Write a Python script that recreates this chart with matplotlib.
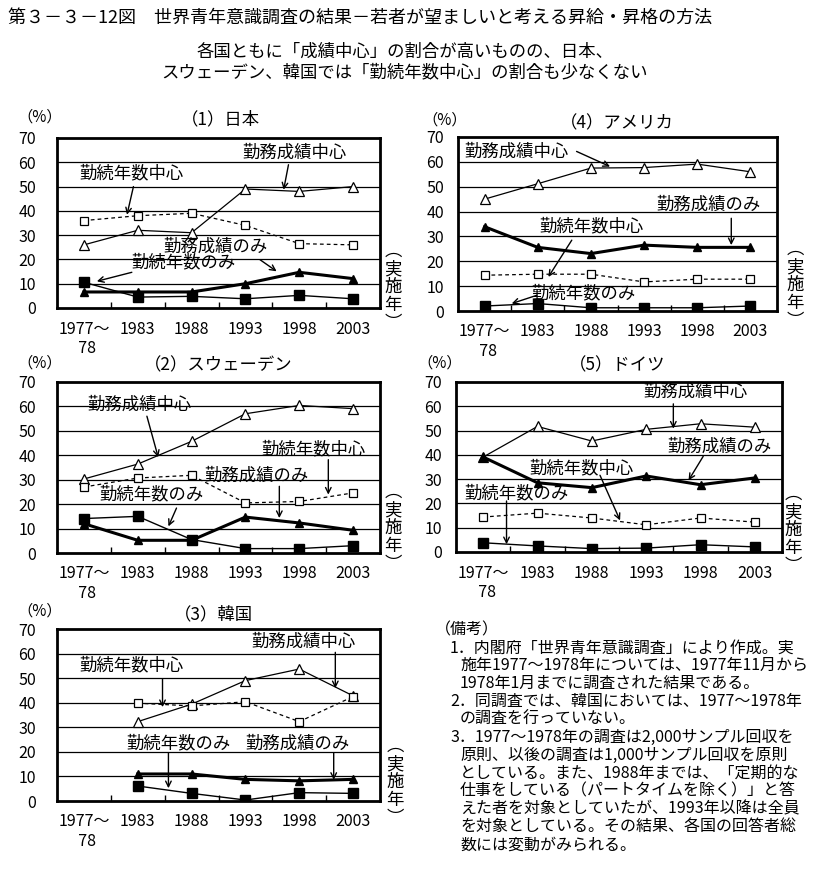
import numpy as np
import matplotlib
matplotlib.use('Agg')
import matplotlib.pyplot as plt

plt.rcParams['font.family'] = ['Noto Sans CJK JP', 'DejaVu Sans']

# ---------------- データ（%） ----------------
years = ['1977～\n  78', '1983', '1988', '1993', '1998', '2003']
nan = np.nan

jp_perf_center = [26, 32, 31, 49, 48, 50]
jp_years_center = [36, 38, 39, 34, 26.5, 26]
jp_perf_only = [6.6, 6.6, 6.6, 10, 14.7, 12.1]
jp_years_only = [10.6, 4.5, 4.8, 3.8, 5.2, 3.8]

us_perf_center = [45, 51.2, 57.5, 57.7, 59.1, 56]
us_years_center = [14.4, 14.8, 14.8, 11.7, 12.8, 12.8]
us_perf_only = [33.9, 25.6, 23.1, 26.5, 25.6, 25.6]
us_years_only = [2.0, 3.0, 1.3, 1.3, 1.3, 2.0]

se_perf_center = [30.3, 36.4, 45.7, 57, 60.4, 59.1]
se_years_center = [27, 30.7, 31.8, 20.5, 21.1, 24.6]
se_perf_only = [12, 5.2, 5.2, 14.7, 12.3, 9.3]
se_years_only = [14.1, 15, 5.5, 1.8, 1.8, 3.0]

de_perf_center = [39.1, 51.7, 45.7, 50.5, 52.8, 51.4]
de_years_center = [14.4, 16, 14, 11.2, 14, 12.3]
de_perf_only = [39.1, 28.5, 26.5, 31.3, 27.7, 30.5]
de_years_only = [3.8, 2.5, 1.4, 1.6, 3.0, 2.1]

kr_perf_center = [nan, 32.3, 39.4, 49, 53.7, 42.8]
kr_years_center = [nan, 39.8, 38.7, 40.4, 32.3, 42.5]
kr_perf_only = [nan, 11, 11, 8.8, 8.2, 8.8]
kr_years_only = [nan, 6.1, 3.1, 0.4, 3.4, 3.1]

W, H = 838, 889
fig = plt.figure(figsize=(W / 100, H / 100), dpi=100)


def fx(x):
    return x / W


def fy(y):
    return 1 - y / H


def draw_panel(box, title, title_xy, pct_xy, jissi_xy, ypad, data, notes):
    l, t, r, b = box
    ax = fig.add_axes([fx(l), fy(b), (r - l) / W, (b - t) / H])
    ax.set_xlim(-0.5, 5.5)
    ax.set_ylim(0, 70)
    for v in range(10, 70, 10):
        ax.axhline(v, color='black', lw=0.9, zorder=0)
    for s in ax.spines.values():
        s.set_linewidth(2)
    ax.set_yticks(range(0, 71, 10))
    ax.set_xticks(range(6))
    ax.set_xticklabels(years)
    ax.set_xticks(np.arange(0.5, 5, 1), minor=True)
    ax.tick_params(axis='x', which='major', length=0, pad=9, labelsize=11.5)
    ax.tick_params(axis='x', which='minor', direction='in', length=4, width=1)
    ax.tick_params(axis='y', length=0, pad=ypad, labelsize=11.5)

    x = np.arange(6)
    pc, yc, po, yo = data
    ax.plot(x, pc, color='black', lw=0.9, marker='^', ms=7, mfc='white', mec='black', mew=0.9, zorder=3)
    ax.plot(x, yc, color='black', lw=0.9, ls=(0, (3, 2.5)), marker='s', ms=6, mfc='white', mec='black', mew=0.9, zorder=3)
    ax.plot(x, po, color='black', lw=2.2, marker='^', ms=6, mfc='black', mec='black', zorder=3)
    ax.plot(x, yo, color='black', lw=1.0, marker='s', ms=6.5, mfc='black', mec='black', zorder=3)

    # 注記と矢印
    for txt, txy, start, end in notes:
        ax.text(txy[0], txy[1], txt, ha='center', va='center', fontsize=12.5)
        ax.annotate('', xy=end, xytext=start,
                    arrowprops=dict(arrowstyle='->', color='black', lw=1, shrinkA=0, shrinkB=0))

    fig.text(fx(title_xy[0]), fy(title_xy[1]), title, ha='center', va='center', fontsize=12.5)
    fig.text(fx(pct_xy[0]), fy(pct_xy[1]), '（%）', ha='center', va='center', fontsize=11)
    fig.text(fx(jissi_xy[0]), fy(jissi_xy[1]), '︵\n実\n施\n年\n︶', ha='center', va='center',
             fontsize=12.5, linespacing=1.0)
    return ax


# (1) 日本
draw_panel((57, 138, 380, 308), '（1）日本', (220, 119), (40, 117), (393, 287), 15,
           (jp_perf_center, jp_years_center, jp_perf_only, jp_years_only),
           [('勤務成績中心', (3.92, 63.8), (3.80, 59), (3.71, 48.7)),
            ('勤続年数中心', (0.89, 55.6), (0.92, 50), (0.80, 38.4)),
            ('勤務成績のみ', (2.44, 25.4), (3.27, 19.9), (3.58, 15.1)),
            ('勤続年数のみ', (1.85, 18.8), (0.89, 14.7), (0.24, 11.0))])

# (4) アメリカ
draw_panel((458, 137, 777, 311), '（4）アメリカ', (617, 123), (445, 120), (795, 285), 10,
           (us_perf_center, us_years_center, us_perf_only, us_years_only),
           [('勤務成績中心', (0.60, 64.2), (1.73, 64.2), (2.36, 58.1)),
            ('勤務成績のみ', (4.21, 42.7), (4.64, 37.3), (4.64, 26.5)),
            ('勤続年数中心', (2.01, 34.2), (1.64, 28.5), (1.20, 13.7)),
            ('勤続年数のみ', (1.86, 7.3), (0.98, 6.3), (0.51, 3.0))])

# (2) スウェーデン
draw_panel((57, 382, 380, 553), '（2）スウェーデン', (218, 365), (40, 363), (393, 528), 15,
           (se_perf_center, se_years_center, se_perf_only, se_years_only),
           [('勤務成績中心', (1.04, 60.7), (1.17, 56), (1.38, 39.2)),
            ('勤続年数中心', (4.26, 42.3), (4.54, 38.2), (4.54, 23.9)),
            ('勤務成績のみ', (3.21, 31.8), (3.63, 27.3), (3.63, 14.3)),
            ('勤続年数のみ', (1.26, 23.9), (1.72, 18.4), (1.57, 10.9))])

# (5) ドイツ
draw_panel((456, 382, 782, 552), '（5）ドイツ', (617, 365), (440, 363), (793, 530), 10,
           (de_perf_center, de_years_center, de_perf_only, de_years_only),
           [('勤務成績中心', (3.90, 65.8), (3.50, 61.0), (3.50, 50.8)),
            ('勤務成績のみ', (4.35, 43.5), (4.05, 39.4), (3.78, 29.5)),
            ('勤続年数中心', (1.81, 34.3), (2.15, 31.6), (2.52, 13.0)),
            ('勤続年数のみ', (0.62, 24.0), (0.43, 21.0), (0.43, 3.2))])

# (3) 韓国
draw_panel((57, 629, 380, 801), '（3）韓国', (213, 614), (40, 611), (395, 782), 15,
           (kr_perf_center, kr_years_center, kr_perf_only, kr_years_only),
           [('勤務成績中心', (4.08, 64.9), (4.67, 60.5), (4.67, 45.9)),
            ('勤続年数中心', (0.89, 55.2), (1.46, 49.6), (1.46, 38.2)),
            ('勤続年数のみ', (1.75, 23.5), (1.57, 19.7), (1.57, 5.2)),
            ('勤務成績のみ', (3.96, 23.5), (4.64, 19.7), (4.64, 8.6))])

# タイトル
fig.text(fx(8), fy(18), '第３－３－12図　世界青年意識調査の結果－若者が望ましいと考える昇給・昇格の方法',
         ha='left', va='center', fontsize=13)
fig.text(fx(405), fy(52), '各国ともに「成績中心」の割合が高いものの、日本、', ha='center', va='center', fontsize=12.5)
fig.text(fx(405), fy(72), 'スウェーデン、韓国では「勤続年数中心」の割合も少なくない', ha='center', va='center', fontsize=12.5)

# 備考
note_lines = [
    (435, '（備考）'),
    (450, '1．内閣府「世界青年意識調査」により作成。実'),
    (460, '施年1977～1978年については、1977年11月から'),
    (460, '1978年1月までに調査された結果である。'),
    (450, '2．同調査では、韓国においては、1977～1978年'),
    (460, 'の調査を行っていない。'),
    (450, '3．1977～1978年の調査は2,000サンプル回収を'),
    (460, '原則、以後の調査は1,000サンプル回収を原則'),
    (460, 'としている。また、1988年までは、「定期的な'),
    (460, '仕事をしている（パートタイムを除く）」と答'),
    (460, 'えた者を対象としていたが、1993年以降は全員'),
    (460, 'を対象としている。その結果、各国の回答者総'),
    (460, '数には変動がみられる。'),
]
for i, (x0, line) in enumerate(note_lines):
    fig.text(fx(x0), fy(630 + 17.9 * i), line, ha='left', va='center', fontsize=11.5)

plt.savefig('out.png', dpi=100)
